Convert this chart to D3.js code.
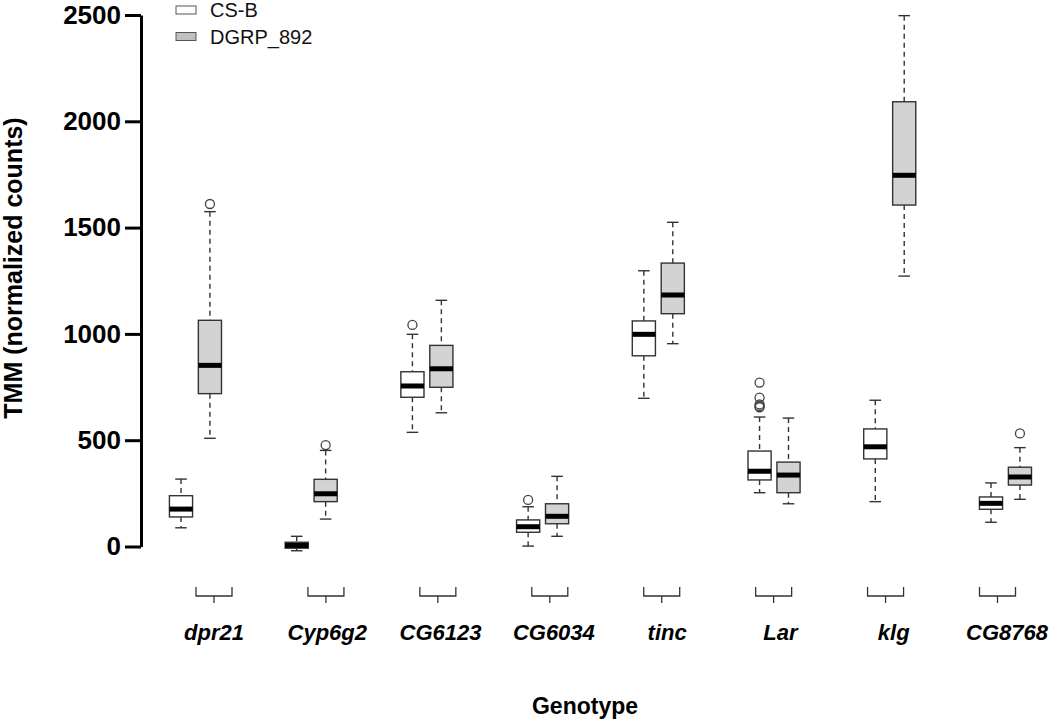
<!DOCTYPE html>
<html>
<head>
<meta charset="utf-8">
<script src="https://cdn.jsdelivr.net/npm/d3@7"></script>
<style>
  html, body { margin: 0; padding: 0; background: #fff; }
  svg { display: block; font-family: "Liberation Sans", Arial, Helvetica, sans-serif; }
</style>
</head>
<body>
<svg id="chart" width="1050" height="721"></svg>
<script>
// ---- data ----
const genes = ["dpr21", "Cyp6g2", "CG6123", "CG6034", "tinc", "Lar", "klg", "CG8768"];
const seriesNames = ["CS-B", "DGRP_892"];
// five-number summaries: [lower whisker, Q1, median, Q3, upper whisker]
const csbStats = [
  [88, 139, 176, 239, 317],
  [-20, -8, 5, 20, 48],
  [537, 702, 755, 822, 998],
  [2, 67, 93, 125, 187],
  [697, 897, 998, 1061, 1297],
  [253, 313, 354, 449, 609],
  [211, 412, 469, 553, 688],
  [114, 175, 203, 233, 299]
];
const dgrpStats = [
  [509, 719, 852, 1064, 1575],
  [129, 211, 248, 316, 452],
  [629, 749, 836, 946, 1158],
  [48, 107, 142, 201, 330],
  [954, 1095, 1183, 1333, 1525],
  [201, 253, 336, 397, 604],
  [1272, 1606, 1746, 2092, 2497],
  [222, 289, 327, 373, 465]
];
const csbOutliers = [[], [], [1042], [219], [], [771, 700, 668, 660, 655], [], []];
const dgrpOutliers = [[1611], [477], [], [], [], [], [], [532]];
const yTicks = [0, 500, 1000, 1500, 2000, 2500];
const yTitle = "TMM (normalized counts)";
const xTitle = "Genotype";

// ---- build table ----
const boxes = [];
genes.forEach((g, i) => {
  [csbStats, dgrpStats].forEach((st, s) => {
    const v = st[i];
    boxes.push({
      gene: g, series: s, pos: i * 4 + 1 + s,
      lo: v[0], q1: v[1], med: v[2], q3: v[3], hi: v[4],
      out: (s === 0 ? csbOutliers : dgrpOutliers)[i]
    });
  });
});

// ---- scales ----
const svg = d3.select("#chart");
const y = d3.scaleLinear().domain([0, 2500]).range([546.5, 15]);
const x = d3.scaleLinear().domain([1, 29]).range([181, 991]);
const unit = x(2) - x(1);
const bw = unit * 0.8;
const capW = bw * 0.5;
const bracketX = d3.scalePoint().domain(genes).range([214, 997.5]);
const labelX = d3.scalePoint().domain(genes).range([214, 1007]);
const fills = ["#ffffff", "#d3d3d3"];
const stroke = "#333";

// ---- y axis ----
const yAxis = d3.axisLeft(y).tickValues(yTicks).tickSize(16).tickSizeOuter(0).tickPadding(4).tickFormat(d3.format("d"));
const ga = svg.append("g").attr("transform", "translate(141,0)").call(yAxis);
ga.select(".domain").attr("stroke", "#000").attr("stroke-width", 3);
ga.selectAll(".tick line").attr("stroke", "#000").attr("stroke-width", 3);
ga.selectAll(".tick text").attr("font-size", 26).attr("font-weight", "bold").attr("fill", "#000")
  .attr("font-family", "'Liberation Sans', Arial, sans-serif");

svg.append("text")
  .attr("transform", "translate(22,268) rotate(-90)")
  .attr("text-anchor", "middle")
  .attr("font-size", 25).attr("font-weight", "bold")
  .text(yTitle);

// ---- boxes ----
const gb = svg.append("g").selectAll("g.box").data(boxes).join("g").attr("class", "box");
// whiskers
gb.append("line")
  .attr("x1", d => x(d.pos)).attr("x2", d => x(d.pos))
  .attr("y1", d => y(d.hi)).attr("y2", d => y(d.q3))
  .attr("stroke", stroke).attr("stroke-width", 1.4).attr("stroke-dasharray", "5,4");
gb.append("line")
  .attr("x1", d => x(d.pos)).attr("x2", d => x(d.pos))
  .attr("y1", d => y(d.q1)).attr("y2", d => y(d.lo))
  .attr("stroke", stroke).attr("stroke-width", 1.4).attr("stroke-dasharray", "5,4");
// caps
gb.append("line")
  .attr("x1", d => x(d.pos) - capW / 2).attr("x2", d => x(d.pos) + capW / 2)
  .attr("y1", d => y(d.hi)).attr("y2", d => y(d.hi))
  .attr("stroke", stroke).attr("stroke-width", 1.4);
gb.append("line")
  .attr("x1", d => x(d.pos) - capW / 2).attr("x2", d => x(d.pos) + capW / 2)
  .attr("y1", d => y(d.lo)).attr("y2", d => y(d.lo))
  .attr("stroke", stroke).attr("stroke-width", 1.4);
// box
gb.append("rect")
  .attr("x", d => x(d.pos) - bw / 2).attr("width", bw)
  .attr("y", d => y(d.q3)).attr("height", d => y(d.q1) - y(d.q3))
  .attr("fill", d => fills[d.series]).attr("stroke", stroke).attr("stroke-width", 1.4);
// median
gb.append("line")
  .attr("x1", d => x(d.pos) - bw / 2).attr("x2", d => x(d.pos) + bw / 2)
  .attr("y1", d => y(d.med)).attr("y2", d => y(d.med))
  .attr("stroke", "#000").attr("stroke-width", 5);
// outliers
gb.selectAll("circle").data(d => d.out.map(v => ({ v, pos: d.pos }))).join("circle")
  .attr("cx", d => x(d.pos)).attr("cy", d => y(d.v)).attr("r", 4.5)
  .attr("fill", "none").attr("stroke", "#444").attr("stroke-width", 1.3);

// ---- brackets & gene labels ----
const gl = svg.append("g").selectAll("g").data(genes).join("g");
gl.append("path")
  .attr("d", g => {
    const c = bracketX(g), h = 18;
    return `M${c - h},587 V596 H${c + h} V587 M${c},596 V603`;
  })
  .attr("fill", "none").attr("stroke", stroke).attr("stroke-width", 1.3);
gl.append("text")
  .attr("x", g => labelX(g)).attr("y", 640)
  .attr("text-anchor", "middle")
  .attr("font-size", 22).attr("font-weight", "bold").attr("font-style", "italic")
  .text(g => g);

svg.append("text")
  .attr("x", 585).attr("y", 714)
  .attr("text-anchor", "middle")
  .attr("font-size", 23).attr("font-weight", "bold")
  .text(xTitle);

// ---- legend ----
const legendFills = ["#ffffff", "#c0c0c0"];
const lg = svg.append("g").selectAll("g").data(seriesNames).join("g")
  .attr("transform", (d, i) => `translate(176,${6 + i * 26.5})`);
lg.append("rect").attr("width", 20).attr("height", 8)
  .attr("fill", (d, i) => legendFills[i]).attr("stroke", "#555").attr("stroke-width", 1);
lg.append("text").attr("x", 34).attr("y", 11)
  .attr("font-size", 20).attr("fill", "#111")
  .text(d => d);
</script>
</body>
</html>
